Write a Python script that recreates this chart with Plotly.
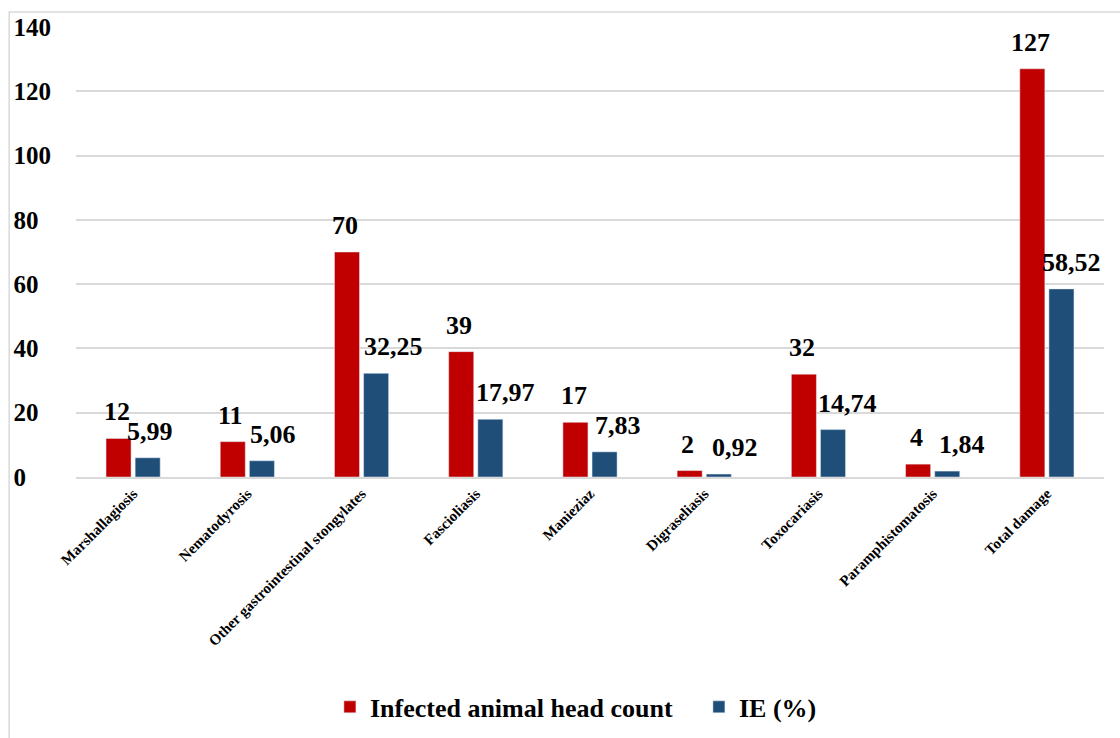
import plotly.graph_objects as go

categories = ["Marshallagiosis", "Nematodyrosis", "Other gastrointestinal stongylates",
              "Fascioliasis", "Manieziaz", "Digraseliasis", "Toxocariasis",
              "Paramphistomatosis", "Total damage"]
head_count = [12, 11, 70, 39, 17, 2, 32, 4, 127]
ie_percent = [5.99, 5.06, 32.25, 17.97, 7.83, 0.92, 14.74, 1.84, 58.52]
y_ticks = [0, 20, 40, 60, 80, 100, 120, 140]

# style: horizontal nudges (px) of the IE data labels, as placed in the original
ie_label_nudge = [0, 9, 15, 13, 11, 14, 13, 13, 8]

FONT = "Liberation Serif"
FIG_SPACE = "\u2007"
width = max(len(str(t)) for t in y_ticks)
y_ticktext = [str(t) + FIG_SPACE * (width - len(str(t))) for t in y_ticks]

head_labels = [str(v) for v in head_count]
ie_labels = [f"{v:.2f}".replace(".", ",") for v in ie_percent]

fig = go.Figure()
fig.add_trace(go.Bar(x=categories, y=head_count, name="Infected animal head count",
                     marker=dict(color="#c00000")))
fig.add_trace(go.Bar(x=categories, y=ie_percent, name="IE (%)",
                     marker=dict(color="#1f4e79")))

label_font = dict(family=FONT, size=26, color="black", weight="bold")
annotations = []
for cat, v, t in zip(categories, head_count, head_labels):
    annotations.append(dict(x=cat, y=v, text=t, showarrow=False, xshift=-16.5,
                            yshift=10, yanchor="bottom", font=label_font))
for cat, v, t, n in zip(categories, ie_percent, ie_labels, ie_label_nudge):
    annotations.append(dict(x=cat, y=v, text=t, showarrow=False, xshift=16.5 + n,
                            yshift=10, yanchor="bottom", font=label_font))

fig.update_layout(
    width=1120, height=738,
    margin=dict(l=76, r=16, t=27, b=261, autoexpand=False),
    paper_bgcolor="white", plot_bgcolor="white",
    barmode="group", bargap=0.49, bargroupgap=0.14,
    font=dict(family=FONT, color="black"),
    showlegend=True,
    legend=dict(orientation="h", x=0.247, xanchor="left", y=-0.511, yanchor="middle",
                font=dict(family=FONT, size=26, color="black", weight="bold"),
                itemwidth=30, entrywidth=324, entrywidthmode="pixels",
                traceorder="normal"),
    xaxis=dict(tickangle=-45, tickfont=dict(family=FONT, size=15, color="black", weight="bold"),
               showline=True, linecolor="#d9d9d9", linewidth=2, ticks="",
               showgrid=False, automargin=False),
    yaxis=dict(range=[0, 140], tickvals=y_ticks, ticktext=y_ticktext,
               tickfont=dict(family=FONT, size=25, color="black", weight="bold"),
               showgrid=True, gridcolor="#d9d9d9", gridwidth=1.5,
               zeroline=False, showline=False, ticks="", ticklabelstandoff=24,
               automargin=False),
    annotations=annotations,
    shapes=[dict(type="rect", xref="paper", yref="paper", x0=-0.065, x1=1.2,
                 y0=-1.0, y1=1.0333, line=dict(color="#d9d9d9", width=1.5),
                 layer="below")],
)

fig.write_html("out.html")
